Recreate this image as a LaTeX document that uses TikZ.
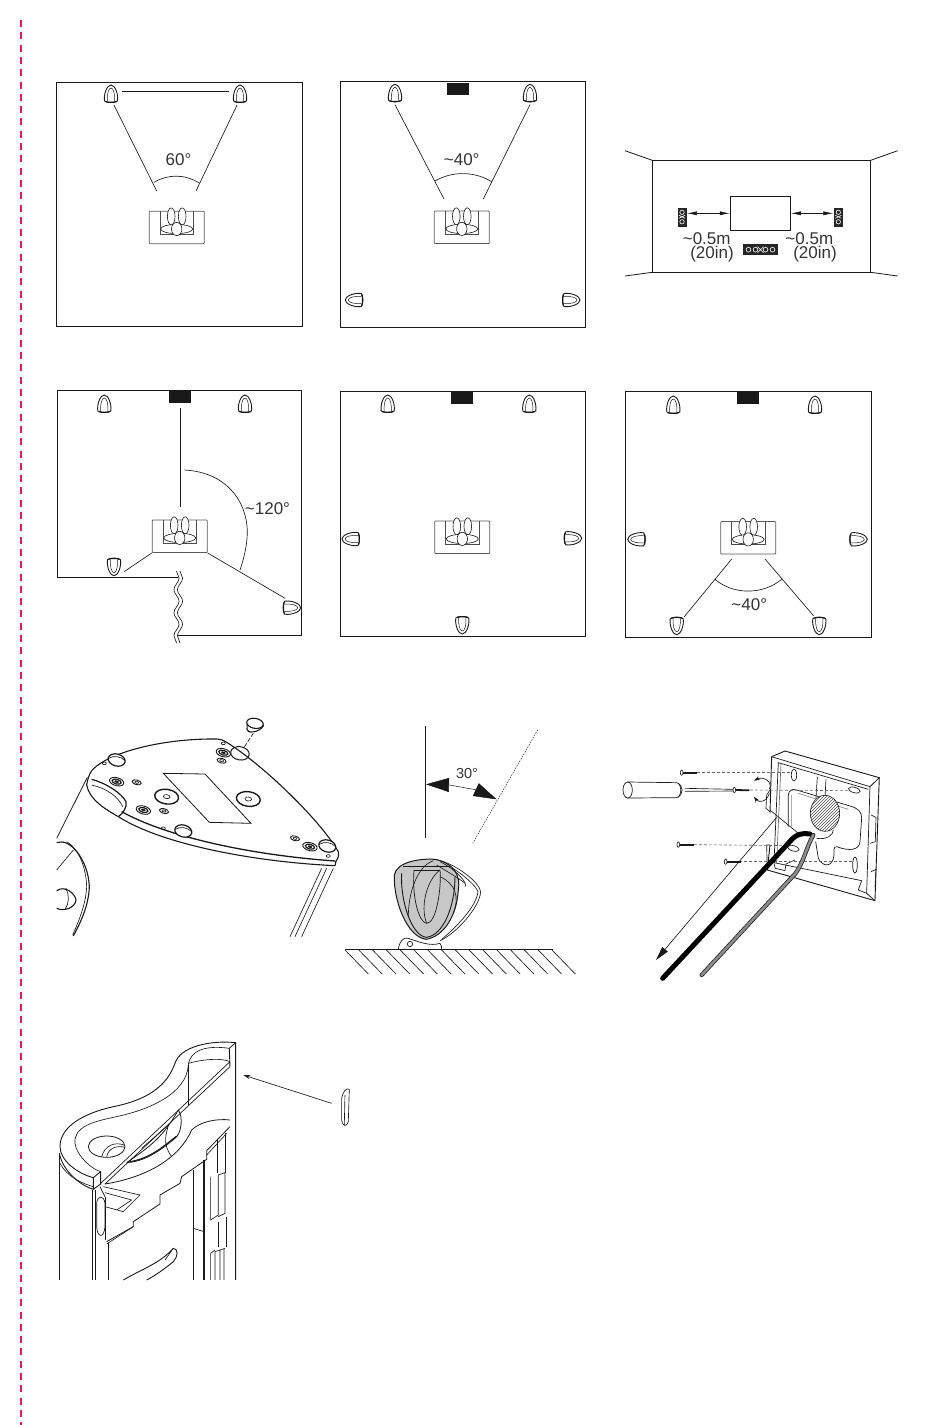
\documentclass[tikz,border=0pt]{standalone}
\usepackage{fontspec}
\setmainfont{Liberation Sans}
\usetikzlibrary{arrows.meta,patterns,decorations.pathmorphing}
\definecolor{trimred}{HTML}{DE1A62}
\tikzset{
  spk/.pic={
    \draw[line width=.9pt, fill=white] (-6.5,7) .. controls (-7.5,0) and (-4,-9) .. (0,-9) .. controls (4,-9) and (7.5,0) .. (6.5,7) .. controls (3,9) and (-3,9) .. cycle;
    \draw[line width=.5pt] (-3.6,7) .. controls (-4,0) and (-2.5,-6) .. (0,-6) .. controls (2.5,-6) and (4,0) .. (3.6,7);
    \draw[line width=1.3pt] (-5.5,7.6) .. controls (-2,8.6) and (2,8.6) .. (5.5,7.6);
  },
  person/.pic={
    \draw[black!70, line width=.7pt] (-16.7,-16) -- (-16.7,6.6) -- (16.7,6.6) -- (16.7,-16);
    \draw[fill=white, line width=.6pt] (-5.5,-11) ellipse [x radius=3.8, y radius=8.5];
    \draw[fill=white, line width=.6pt] (5.5,-11) ellipse [x radius=3.8, y radius=8.5];
    \draw[fill=white, line width=.6pt] (0,1.6) ellipse [x radius=16, y radius=4.6];
    \draw[fill=white, line width=.6pt] (0,1.6) ellipse [x radius=5.2, y radius=6.6];
  },
  tower/.pic={
    \fill[black!85] (-4.5,-9.5) rectangle (4.5,9.5);
    \draw[white, line width=.6pt] (0,-5) circle (2.2) (0,4.5) circle (2.2) (-3,-2) -- (3,1) (-3,1) -- (3,-2);
  }
}
\begin{document}
\begin{tikzpicture}[x=1pt, y=-1pt, line width=.8pt, black!90,
    main/.style = {circle, inner sep=0pt, minimum size=22pt},
    seat/.style = {draw=black!65, rounded corners=.8pt, minimum width=55pt, minimum height=32.5pt, inner sep=0pt},
    ctr/.style = {fill=black!90, minimum width=22pt, minimum height=12.3pt, inner sep=0pt},
    lbl/.style = {font=\fontsize{17}{19}\selectfont, inner sep=0pt, text=black!80},
    room/.style = {line width=1pt},
    zoomed/.style = {x=0.3333pt, y=-0.3333pt},
    thinline/.style = {line width=.65pt},
    dashline/.style = {line width=.6pt, black!60, dash pattern=on 3pt off 2pt}]
\useasboundingbox (0,0) rectangle (950,1425);
\draw[trimred, line width=2.4pt, dash pattern=on 7pt off 5.3pt] (21,20) -- (21,1425);
% rooms
\draw[room] (56,82) rectangle (302,326);
\draw[room] (340,81) rectangle (585.7,327);
\draw[room] (340.3,391) rectangle (585.7,636.7);
\draw[room] (625.3,391) rectangle (871.7,637.3);
\draw[room] (178.3,577.3) -- (57.3,577.3) -- (57.3,390) -- (301.7,390) -- (301.7,635) -- (178.3,635);
\draw[thinline, decorate, decoration={snake, amplitude=2.6pt, segment length=23pt}] (176.5,571) -- (176.5,643);
\draw[thinline, decorate, decoration={snake, amplitude=2.6pt, segment length=23pt}] (180,571) -- (180,643);
% seats and speakers
\foreach \name/\x/\y in {a3/176.7/227.4, b3/461.8/227.3, d3/179.7/536.3, e3/462.3/537.3, f3/748.2/537.8} {
  \node[seat] (\name) at (\x,\y) {};
  \pic at (\name) {person};
}
\foreach \name/\x/\y/\r in {a1/111/94/0, a2/240/94/0, b1/395/93.3/0, b2/530/93.3/0, b4/354.3/300/90, b5/571/300/-90,
    d1/104.3/404/0, d2/245/404/0, d4/114/566.7/180, d5/291.7/607.7/-90,
    e1/387.7/404/0, e2/529.3/404/0, e4/351/539/90, e5/572.7/538.3/-90, e6/462.3/625/180,
    f1/673.3/405/0, f2/815/405/0, f4/636.7/539.3/90, f5/858.3/539.3/-90, f6/676.7/625.7/180, f7/819.3/625.7/180} {
  \node[main] (\name) at (\x,\y) {};
  \pic[rotate=\r] at (\name) {spk};
}
\node[ctr] (b0) at (458.3,88.8) {};
\node[ctr] (d0) at (179.9,396.8) {};
\node[ctr] (e0) at (462,398) {};
\node[ctr] (f0) at (747.8,397.5) {};
% free ends
\coordinate (a5) at (156.7,191);
\coordinate (a6) at (196,191);
\coordinate (b6) at (444,199);
\coordinate (b7) at (483.3,199);
\coordinate (f8) at (731.7,559);
\coordinate (f9) at (765,559);
\draw[thinline] (a1.-75) -- (a5);
\draw[thinline] (a2.-105) -- (a6);
\draw (a1.15) -- (a2.165);
\draw[thinline] (b1.south) -- (b6);
\draw[thinline] (b2.south) -- (b7);
\draw[shorten <=5pt, shorten >=12.5pt] (d0) -- (d0 |- d3.north);
\draw[thinline] (d3.south west) -- (d4.-25);
\draw[thinline] (d3.south east) -- (d5.125);
\draw[thinline] (f6.50) -- (f8);
\draw[thinline] (f7.120) -- (f9);
% angle marks
\draw[thinline] (154,182.3) .. controls (168,174) and (185,174) .. (199,183);
\draw[thinline] (435,181) .. controls (452,171) and (474,171) .. (491.7,181.7);
\draw[thinline] (184.3,470) .. controls (225,472) and (247,500) .. (247.3,531.7) .. controls (247.3,545) and (244,558) .. (240,570);
\draw[thinline] (715,579.3) .. controls (733,595) and (763,595) .. (781.7,579.3);
\node[lbl] (t1) at (178.5,160) {60°};
\node[lbl] (t2) at (461.7,160) {\textasciitilde40°};
\node[lbl] (t3) at (267.5,509) {\textasciitilde120°};
\node[lbl] (t4) at (749.3,604.3) {\textasciitilde40°};
% front wall
\draw[room] (652.3,160.3) rectangle (870.7,272.3);
\draw (625,150.7) -- (652.3,160.3);
\draw (897.7,150.7) -- (870.7,160.3);
\draw (625,276) -- (652.3,272.3);
\draw (897.7,276) -- (870.7,272.3);
\node[draw, minimum width=60pt, minimum height=34pt, inner sep=0pt, line width=.9pt] (tv) at (760.3,213.3) {};
\node[minimum width=9pt, minimum height=19pt, inner sep=0pt] (ls) at (682,217.3) {};
\node[minimum width=9pt, minimum height=19pt, inner sep=0pt] (rs) at (838.3,217.3) {};
\pic at (ls) {tower};
\pic at (rs) {tower};
\draw[thinline, {Latex[length=10pt,width=4pt]}-{Latex[length=10pt,width=4pt]}] (ls.east |- tv.west) -- (tv.west);
\draw[thinline, {Latex[length=10pt,width=4pt]}-{Latex[length=10pt,width=4pt]}] (tv.east) -- (rs.west |- tv.east);
\node[fill=black!85, minimum width=35.6pt, minimum height=11.3pt, inner sep=0pt] (cs) at (760.5,249.7) {};
\foreach \x in {-12,-5,5,12} \draw[white, line width=.6pt] ([xshift=\x pt]cs.center) circle (2.4);
\draw[white, line width=.6pt] ([shift={(-3,-3)}]cs.center) -- ([shift={(3,3)}]cs.center) ([shift={(-3,3)}]cs.center) -- ([shift={(3,-3)}]cs.center);
\node[lbl] (t5) at (706.7,238.3) {\textasciitilde0.5m};
\node[lbl] (t6) at (712,254.3) {(20in)};
\node[lbl] (t7) at (809.3,238.3) {\textasciitilde0.5m};
\node[lbl] (t8) at (815,254.3) {(20in)};
% underside of the speaker
\begin{scope}[shift={(50,700)}, zoomed]
\draw (112,232) -- (20,415);
\draw[line width=1.1pt] (125,212) .. controls (170,160) and (330,115) .. (500,117) .. controls (512,118) and (520,120) .. (530,127) .. controls (640,195) and (810,360) .. (865,455) .. controls (868,470) and (862,480) .. (855,487);
\draw[line width=1.1pt] (125,212) .. controls (118,222) and (112,240) .. (110,255) .. controls (118,300) and (170,330) .. (205,350) .. controls (330,430) and (600,485) .. (855,497) -- (858,485);
\draw[line width=1.3pt] (215,335) .. controls (350,410) and (600,465) .. (855,483);
\draw[line width=1.2pt] (125,238) .. controls (170,250) and (215,280) .. (228,305) .. controls (232,320) and (220,340) .. (205,350);
\draw[thinline] (125,255) .. controls (170,265) and (205,290) .. (218,320);
\foreach \x in {815,830,850} \draw[thinline] (\x,505) -- (\x-95,710);
% foot pads
\foreach \x/\y in {200/180, 400/393, 832/438} {
  \draw[line width=1.2pt, fill=white] (\x,\y) ellipse [x radius=26, y radius=18, rotate=-15];
  \draw[thinline] (\x-24,\y-5) .. controls (\x-10,\y-14) and (\x+12,\y-12) .. (\x+25,\y+2);
}
\draw[line width=1pt] (570,160) ellipse [x radius=28, y radius=20, rotate=-10];
\draw[line width=1.1pt, fill=white] (591,88) .. controls (590,100) and (625,100) .. (640,78) -- (638,70) -- (592,70) -- cycle;
\draw[line width=1.1pt, fill=white] (615,70) ellipse [x radius=25, y radius=15, rotate=-10];
\draw[thinline, dash pattern=on 4pt off 2pt] (610,100) -- (580,145);
% screws
\foreach \x/\y in {200/245, 520/158, 280/330, 780/440} {
  \draw[line width=.9pt] (\x,\y) ellipse [x radius=22, y radius=12, rotate=-15];
  \draw[line width=1.2pt] (\x,\y) ellipse [x radius=14, y radius=7, rotate=-15];
  \fill (\x,\y) ellipse [x radius=7, y radius=3.5, rotate=-15];
}
\foreach \x/\y in {260/247, 515/182, 342/333, 735/415} {
  \draw[line width=.9pt] (\x,\y) ellipse [x radius=14, y radius=7, rotate=-15];
  \draw[thinline] (\x,\y) ellipse [x radius=6, y radius=3, rotate=-15];
}
\foreach \x/\y in {350/290, 595/297} {
  \draw[line width=1.4pt] (\x,\y) ellipse [x radius=36, y radius=22, rotate=-8];
  \draw[thinline] (\x,\y) ellipse [x radius=10, y radius=6, rotate=-8];
}
\foreach \x/\y in {163/190, 520/130, 340/385, 835/468} \draw[thinline] (\x,\y) ellipse [x radius=6, y radius=4];
\draw (340,220) -- (465,222) -- (603,370) -- (478,367) -- cycle;
% neighbouring cabinet
\draw[line width=1.1pt] (20,428) .. controls (60,412) and (115,480) .. (118,560) .. controls (116,620) and (90,670) .. (70,708);
\draw[thinline] (50,425) .. controls (85,445) and (108,500) .. (110,560) .. controls (108,610) and (88,660) .. (68,705);
\draw[thinline] (70,450) -- (20,510);
\draw[line width=1.1pt] (20,572) .. controls (45,555) and (75,580) .. (78,600) .. controls (75,625) and (40,635) .. (20,625);
\draw[thinline] (48,565) .. controls (58,585) and (58,610) .. (45,628);
\end{scope}
% tilt drawing
\begin{scope}[shift={(340,720)}, zoomed]
\draw[line width=1.1pt] (256,18) -- (256,355);
\draw[thinline, black!70, dash pattern=on 1.5pt off 1.2pt] (593,30) -- (398,370);
\draw[line width=.5pt, {Stealth[length=23pt,width=14pt,inset=0pt]}-{Stealth[length=23pt,width=14pt,inset=0pt]}] (258,193) .. controls (330,195) and (410,210) .. (470,238);
\node[lbl, font=\fontsize{14.5}{16}\selectfont] (t9) at (381,160) {30°};
\draw[thinline] (300,662) .. controls (350,640) and (420,560) .. (422,515) .. controls (420,490) and (350,430) .. (285,418);
\draw[thinline] (305,658) .. controls (345,625) and (410,560) .. (414,515) .. controls (405,490) and (340,440) .. (300,425);
\draw[line width=1pt, fill=black!22] (163,465) .. controls (170,425) and (240,415) .. (285,418) .. controls (345,430) and (362,470) .. (355,510) .. controls (350,590) and (310,650) .. (258,658) .. controls (200,650) and (160,540) .. (163,465);
\draw[line width=.7pt] (222,450) -- (300,450);
\draw[line width=.7pt] (222,450) .. controls (215,540) and (240,610) .. (260,610) .. controls (290,610) and (305,500) .. (300,450);
\draw[line width=.9pt] (185,460) .. controls (180,540) and (215,650) .. (260,652) .. controls (310,645) and (345,560) .. (345,470);
\draw[thinline] (260,610) .. controls (240,560) and (260,480) .. (300,450);
\draw[thinline] (205,590) .. controls (205,520) and (230,440) .. (280,422);
\draw[thinline] (300,425) .. controls (350,450) and (385,490) .. (375,500);
\draw[thinline] (290,435) .. controls (330,460) and (365,480) .. (375,490);
\draw[thinline] (300,470) .. controls (345,490) and (360,530) .. (340,580);
\draw[thinline] (190,440) -- (330,440);
\draw[line width=.7pt, fill=white] (175,688) .. controls (178,665) and (190,650) .. (205,655) .. controls (235,665) and (270,680) .. (300,670) .. controls (305,675) and (305,682) .. (305,688);
\draw[line width=.7pt] (210,672) circle (8);
\draw[line width=1pt] (15,688) -- (640,688);
\draw[line width=1.5pt] (180,688) -- (295,688);
\foreach \x in {15,56.4,...,636} \draw[thinline] (\x,690) -- (\x+70,762);
\end{scope}
% wall bracket
\begin{scope}[shift={(610,730)}, zoomed]
\draw[line width=.9pt] (485,80) -- (525,63) -- (808,143) -- (795,512) -- (472,420) -- (480,345) (480,250) -- (485,80);
\draw[line width=.7pt] (485,80) -- (780,170) -- (770,490) -- (745,480) -- (755,452) -- (492,398) -- (505,98) -- (775,178);
\draw (808,143) -- (780,170) (795,512) -- (770,490);
\draw[thinline, black!60] (513,100) -- (500,400);
\draw[thinline] (480,180) -- (470,195) -- (468,235) -- (480,245);
\draw[thinline] (480,345) -- (470,345) -- (472,420);
\draw[thinline] (492,400) -- (496,415) -- (525,422) -- (528,402) -- (555,390);
\draw[thinline] (783,255) -- (798,262) -- (796,335) -- (780,340);
\draw[thinline] (783,425) -- (798,418) -- (795,470);
\draw[thinline] (622,140) -- (618,205) (648,148) -- (645,205);
\draw[thinline] (552,135) ellipse [x radius=8, y radius=18];
\draw[thinline] (733,180) ellipse [x radius=18, y radius=8, rotate=-15];
\draw[thinline] (550,355) ellipse [x radius=18, y radius=8, rotate=-15];
\draw[line width=.7pt] (735,405) ellipse [x radius=7, y radius=24];
\draw[line width=.7pt] (535,290) -- (535,195) .. controls (537,180) and (545,176) .. (560,180) -- (720,228) .. controls (745,235) and (755,245) .. (755,265) -- (750,335) .. controls (748,360) and (720,365) .. (680,350) .. controls (670,350) and (672,360) .. (672,375) .. controls (670,410) and (640,415) .. (625,385) -- (617,335);
\draw[thinline, black!50] (545,290) -- (545,195) (565,190) -- (715,238);
\draw[thinline] (670,300) .. controls (670,315) and (650,330) .. (620,325);
\fill[white] (645,250) ellipse [x radius=45, y radius=55];
\draw[line width=.6pt, pattern=north east lines, pattern color=black!70] (645,250) ellipse [x radius=44, y radius=54];
\draw[dashline] (262,128) -- (545,128);
\draw[dashline] (420,180) -- (720,182);
\draw[dashline] (252,344) -- (540,347);
\draw[dashline] (387,395) -- (730,395);
% screws
\foreach \x/\y in {215/128, 205/344, 347/395} {
  \draw[line width=.6pt] (\x,\y) ellipse [x radius=4, y radius=8];
  \draw[line width=1.8pt] (\x+5,\y) -- (\x+47,\y);
}
\draw[line width=.6pt] (373,180) ellipse [x radius=4, y radius=8];
\draw[line width=1.8pt] (378,180) -- (418,181);
% screwdriver
\draw[line width=.7pt] (53,180) ellipse [x radius=14, y radius=24];
\draw[line width=.7pt] (53,156) -- (200,158) .. controls (222,165) and (222,195) .. (200,203) -- (53,204);
\draw[thinline] (205,160) .. controls (215,170) and (215,190) .. (205,202);
\draw[thinline] (225,175) -- (370,178) (225,184) -- (370,183);
\draw[thinline, {Stealth[length=6pt,width=4pt]}-] (432,152) .. controls (460,138) and (490,155) .. (478,178);
\draw[thinline, -{Stealth[length=6pt,width=4pt]}] (478,190) .. controls (470,218) and (445,218) .. (432,200);
% arrow and cables
\draw[thinline] (480,240) -- (565,310);
\draw[thinline, -{Stealth[length=14pt,width=7pt,inset=0pt]}] (500,262) -- (138,690);
\draw[black, line width=5pt, line cap=round, line join=round] (600,312) .. controls (570,308) and (555,315) .. (535,340) -- (158,745);
\draw[black!85, line width=4.2pt, line cap=round, line join=round] (610,315) .. controls (590,350) and (580,400) .. (555,432) -- (275,735);
\draw[black!45, line width=2.6pt, line cap=round, line join=round] (610,315) .. controls (590,350) and (580,400) .. (555,432) -- (275,735);
\end{scope}
% cabinet top
\begin{scope}[shift={(50,1030)}, zoomed]
\draw[line width=.9pt] (130,443) .. controls (80,430) and (30,390) .. (30,350) .. controls (30,290) and (100,250) .. (190,230) .. controls (290,210) and (350,170) .. (375,100) .. controls (390,50) and (480,30) .. (557,38) -- (557,750);
\draw[line width=.9pt] (28,370) .. controls (40,430) and (100,470) .. (130,478) -- (152,462) -- (152,425) -- (130,443) -- (130,478);
\draw[thinline] (30,400) .. controls (50,440) and (100,462) .. (130,470);
\draw[line width=.9pt] (28,370) -- (28,750);
\draw (557,38) -- (538,55);
\draw[thinline] (538,55) .. controls (470,45) and (420,60) .. (415,105) .. controls (410,190) and (300,240) .. (190,262) .. controls (130,275) and (70,290) .. (75,340) .. controls (80,380) and (130,420) .. (152,425);
\draw[thinline] (415,100) .. controls (470,85) and (520,85) .. (540,95);
\draw[line width=.7pt] (540,95) -- (150,462) (540,110) -- (165,462);
\draw[line width=.9pt] (538,55) -- (540,110);
\draw[line width=.8pt] (170,350) ellipse [x radius=55, y radius=32];
\draw[thinline] (155,380) .. controls (165,345) and (195,335) .. (222,345);
\draw[thinline] (170,380) .. controls (175,355) and (200,345) .. (225,352);
\draw[line width=.8pt] (230,398) .. controls (300,350) and (340,320) .. (385,240) .. controls (400,260) and (395,310) .. (375,325) .. controls (310,380) and (270,395) .. (230,398);
\draw[line width=1.1pt] (240,395) .. controls (300,385) and (340,350) .. (380,318);
\draw[thinline] (275,355) -- (355,285) .. controls (350,310) and (335,340) .. (365,380);
\draw[line width=.8pt] (415,105) -- (415,225);
\draw[line width=.8pt] (165,462) .. controls (300,440) and (390,380) .. (425,300) .. controls (450,275) and (500,265) .. (540,270);
\draw[line width=.8pt] (540,290) -- (470,362) -- (470,388) -- (395,440) -- (390,460) -- (330,495) -- (330,522) -- (250,575) -- (250,590) -- (170,635);
\draw[thinline] (530,310) -- (470,375) (170,642) -- (250,590);
\draw[thinline] (160,470) -- (270,495) -- (220,545) -- (165,530);
\draw[thinline] (165,488) -- (245,510) -- (200,540);
\draw[line width=1.1pt] (127,480) -- (127,750);
\draw (135,480) -- (135,750);
\draw (165,500) -- (165,630);
\draw (175,640) -- (175,750);
\draw (150,470) -- (165,500);
\draw[line width=.7pt] (140,520) .. controls (142,495) and (162,495) .. (165,520) -- (165,590) .. controls (162,625) and (142,625) .. (140,590) -- cycle;
\draw (430,420) -- (430,750);
\draw[line width=1.3pt] (462,390) -- (462,750);
\draw[thinline] (430,595) -- (462,605);
\draw[thinline] (502,330) -- (502,430) (527,310) -- (527,430);
\draw[thinline] (482,440) -- (482,570) -- (505,555) -- (505,435) -- (525,428) -- (525,550) -- (505,560);
\draw[thinline] (505,575) -- (505,650) (530,560) -- (530,650);
\draw[thinline] (482,670) -- (482,750) (495,665) -- (495,750) (510,660) -- (510,750) (522,655) -- (522,750) (495,665) -- (525,655) (482,670) -- (495,660);
\draw[line width=.9pt] (220,750) .. controls (280,715) and (330,700) .. (370,655) .. controls (385,655) and (385,680) .. (370,695) .. controls (340,720) and (310,740) .. (290,750);
\draw[thinline] (345,690) -- (370,655);
\draw[thinline, -{Stealth[length=7pt,width=4pt]}] (845,220) -- (580,135);
\draw[thinline] (875,205) .. controls (878,185) and (890,172) .. (898,178) -- (895,275) .. controls (890,292) and (878,290) .. (875,270) -- cycle;
\draw[thinline] (885,195) -- (883,285);
\end{scope}
\end{tikzpicture}
\end{document}
